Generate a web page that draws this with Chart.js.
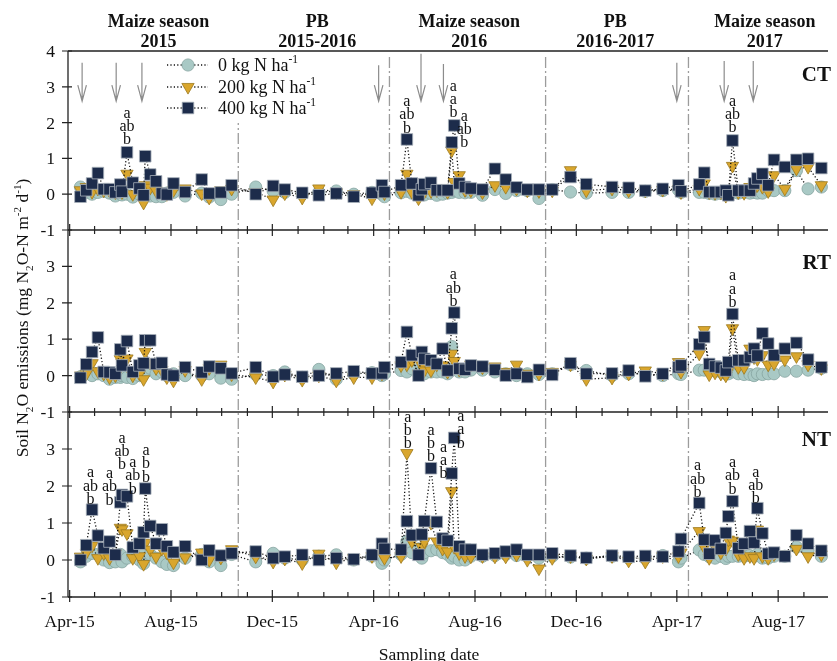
<!DOCTYPE html>
<html>
<head>
<meta charset="utf-8">
<script src="https://cdn.jsdelivr.net/npm/chart.js@4.4.1/dist/chart.umd.min.js"></script>
<style>
  html, body { margin: 0; padding: 0; background: #fff; overflow: hidden; }
  canvas { display: block; }
</style>
</head>
<body>
<canvas id="n2oChart" width="837" height="661"></canvas>
<script>
// sampling dates, shared by all tillage panels
const samplingDates = [
  // maize season 2015
  '2015-04-14', '2015-04-21', '2015-04-28', '2015-05-05', '2015-05-12', '2015-05-19',
  '2015-05-26', '2015-06-01', '2015-06-03', '2015-06-09', '2015-06-16', '2015-06-24',
  '2015-06-29', '2015-07-01', '2015-07-07', '2015-07-14', '2015-07-21', '2015-07-27',
  '2015-08-04', '2015-08-18', '2015-09-07', '2015-09-16', '2015-09-30', '2015-10-13',
  // PB 2015-2016
  '2015-11-11', '2015-12-02', '2015-12-16', '2016-01-06', '2016-01-26', '2016-02-16',
  '2016-03-08', '2016-03-30', '2016-04-11', '2016-04-14',
  // maize season 2016
  '2016-05-04', '2016-05-11', '2016-05-17', '2016-05-25', '2016-05-29', '2016-06-01',
  '2016-06-09', '2016-06-16', '2016-06-23', '2016-06-29', '2016-07-04', '2016-07-07',
  '2016-07-13', '2016-07-20', '2016-07-27', '2016-08-10', '2016-08-25', '2016-09-07',
  '2016-09-20', '2016-10-03', '2016-10-17',
  // PB 2016-2017
  '2016-11-02', '2016-11-24', '2016-12-13', '2017-01-13', '2017-02-02', '2017-02-22',
  '2017-03-15', '2017-04-03', '2017-04-06',
  // maize season 2017
  '2017-04-28', '2017-05-04', '2017-05-10', '2017-05-17', '2017-05-24', '2017-05-30',
  '2017-06-02', '2017-06-07', '2017-06-14', '2017-06-21', '2017-06-28', '2017-07-03',
  '2017-07-07', '2017-07-13', '2017-07-20', '2017-07-27', '2017-08-09', '2017-08-23',
  '2017-09-06', '2017-09-22'
];

// CT
const ctN0 = [
  0.2, 0.05, 0.0, 0.05, 0.08, 0.03, -0.05, 0.0, -0.02, 0.0, -0.08, 0.0, 0.05, 0.0, -0.05, -0.07, -0.07, 0.03, 0.05, -0.05, 0.03, -0.08, -0.15, 0.0,
  0.2, 0.09, 0.05, 0.0, 0.05, 0.09, 0.0, 0.05, 0.0, -0.07,
  0.04, 0.08, 0.03, 0.0, 0.0, -0.02, 0.02, -0.03, 0.0, 0.03, 0.05, 0.1, 0.05, 0.04, 0.05, -0.03, 0.13, 0.02, 0.1, 0.1, -0.12,
  0.13, 0.06, 0.03, 0.05, 0.05, 0.08, 0.1, 0.12, 0.05,
  0.05, 0.05, 0.02, 0.0, 0.02, 0.0, 0.03, 0.05, 0.03, 0.05, 0.03, 0.05, 0.03, 0.03, 0.1, 0.1, 0.1, 0.66, 0.15, 0.2
];
const ctN200 = [
  0.11, 0.2, 0.06, 0.15, 0.1, 0.1, 0.05, 0.15, 0.05, 0.57, 0.0, 0.1, -0.24, 0.25, 0.18, 0.1, 0.05, 0.0, 0.11, 0.16, 0.02, -0.1, 0.11, 0.15,
  0.05, -0.15, 0.02, -0.1, 0.16, 0.05, 0.0, -0.12, 0.1, 0.02,
  0.06, 0.57, 0.06, -0.12, 0.05, 0.06, 0.08, 0.11, 0.16, 0.06, 1.22, 0.34, 0.53, 0.11, 0.1, 0.05, 0.25, 0.2, 0.15, 0.1, 0.08,
  0.1, 0.67, 0.1, 0.15, 0.1, 0.1, 0.12, 0.15, 0.05,
  0.15, 0.3, 0.05, 0.03, 0.05, -0.05, 0.05, 0.79, 0.05, 0.03, 0.2, 0.15, 0.25, 0.2, 0.08, 0.53, 0.15, 0.71, 0.76, 0.25
];
const ctN400 = [
  -0.07, 0.11, 0.3, 0.59, 0.14, 0.14, 0.05, 0.27, 0.07, 1.17, 0.32, 0.16, -0.03, 1.06, 0.55, 0.36, 0.02, -0.01, 0.3, 0.06, 0.41, 0.02, 0.05, 0.25,
  0.0, 0.23, 0.13, 0.04, -0.03, 0.02, -0.07, 0.04, 0.25, 0.06,
  0.25, 1.53, 0.3, -0.03, 0.14, 0.28, 0.32, 0.11, 0.11, 0.11, 1.45, 1.92, 0.3, 0.2, 0.16, 0.13, 0.71, 0.41, 0.19, 0.13, 0.13,
  0.13, 0.48, 0.28, 0.2, 0.18, 0.1, 0.15, 0.25, 0.08,
  0.27, 0.6, 0.06, 0.06, 0.06, 0.1, -0.03, 1.5, 0.1, 0.1, 0.1, 0.3, 0.44, 0.57, 0.25, 0.96, 0.76, 0.96, 0.99, 0.73
];

// RT
const rtN0 = [
  -0.03, 0.05, 0.0, 0.05, 0.0, -0.1, -0.05, -0.05, 0.0, -0.05, -0.08, 0.0, 0.05, 0.1, 0.2, 0.05, 0.1, 0.0, 0.05, 0.0, 0.0, 0.05, -0.07, -0.1,
  0.03, 0.0, 0.1, -0.05, 0.17, -0.1, 0.05, 0.08, 0.0, 0.05,
  0.14, 0.1, 0.19, 0.05, 0.05, 0.05, 0.1, 0.1, 0.1, 0.05, 0.8, 0.2, 0.1, 0.1, 0.15, 0.15, 0.1, 0.05, 0.0, 0.05, 0.03,
  0.05, 0.3, 0.14, 0.0, 0.05, 0.05, 0.0, 0.05, 0.03,
  0.15, 0.15, 0.15, 0.13, 0.1, 0.05, 0.05, 0.1, 0.05, 0.03, 0.03, 0.0, 0.05, 0.03, 0.05, 0.05, 0.12, 0.12, 0.15, 0.2
];
const rtN200 = [
  0.0, 0.05, 0.34, 0.12, 0.05, -0.05, 0.0, 0.45, 0.35, 0.47, 0.0, 0.05, -0.1, 0.65, 0.35, 0.2, 0.15, -0.05, -0.14, 0.15, -0.1, 0.2, 0.3, 0.03,
  -0.05, -0.17, 0.02, -0.12, 0.0, -0.14, -0.05, -0.05, 0.05, 0.1,
  0.28, 0.3, 0.42, 0.05, 0.28, 0.14, 0.14, 0.3, 0.28, 0.1, 0.6, 0.4, 0.16, 0.2, 0.3, 0.22, 0.25, 0.1, 0.3, 0.05, 0.05,
  0.1, 0.3, -0.1, -0.06, 0.05, 0.14, 0.05, 0.37, 0.1,
  0.6, 1.25, 0.03, 0.08, 0.05, 0.0, 0.15, 1.3, 0.23, 0.23, 0.74, 0.5, 0.45, 0.56, 0.3, 0.33, 0.44, 0.53, 0.3, 0.2
];
const rtN400 = [
  -0.06, 0.31, 0.65, 1.05, 0.1, 0.09, 0.05, 0.72, 0.28, 0.95, 0.1, 0.28, 0.34, 0.97, 0.97, 0.32, 0.35, 0.03, 0.0, 0.23, 0.09, 0.25, 0.2, 0.06,
  0.23, -0.03, 0.03, -0.03, 0.0, 0.06, 0.12, 0.06, 0.06, 0.23,
  0.37, 1.2, 0.56, 0.0, 0.65, 0.46, 0.42, 0.32, 0.74, 0.14, 1.3, 1.73, 0.19, 0.16, 0.28, 0.25, 0.16, 0.0, 0.05, -0.04, 0.16,
  0.02, 0.34, 0.05, 0.06, 0.14, -0.02, 0.05, 0.23, 0.28,
  0.86, 1.06, 0.32, 0.25, 0.22, 0.14, 0.37, 1.69, 0.42, 0.42, 0.51, 0.74, 0.55, 1.16, 0.88, 0.56, 0.74, 0.9, 0.44, 0.23
];

// NT
const ntN0 = [
  -0.05, 0.1, 0.18, 0.15, 0.0, -0.07, -0.05, 0.15, -0.05, 0.05, 0.1, 0.0, -0.1, 0.2, 0.15, 0.05, -0.05, -0.12, -0.15, 0.05, 0.15, -0.05, -0.15, 0.15,
  -0.05, 0.18, 0.05, 0.0, 0.1, 0.14, 0.0, 0.1, -0.09, 0.0,
  0.15, 0.5, 0.2, 0.3, 0.05, 0.2, 0.25, 0.28, 0.2, 0.15, 0.05, 0.1, 0.0, 0.0, 0.1, 0.1, 0.12, 0.15, 0.12, 0.1, 0.05,
  0.1, 0.08, 0.05, 0.1, 0.05, 0.05, 0.12, -0.05, 0.05,
  0.27, 0.15, 0.09, 0.05, 0.1, 0.04, 0.1, 0.1, 0.1, 0.1, 0.12, 0.1, 0.15, 0.05, 0.05, 0.1, 0.1, 0.35, 0.25, 0.1
];
const ntN200 = [
  0.09, 0.2, 0.39, 0.05, 0.18, 0.05, 0.18, 0.87, 0.83, 0.72, 0.05, 0.1, -0.11, 0.46, 0.28, 0.09, 0.3, 0.2, -0.07, 0.07, 0.2, 0.0, 0.06, 0.29,
  0.09, -0.05, 0.03, -0.09, 0.17, -0.07, 0.05, 0.1, 0.2, 0.05,
  0.1, 2.89, 0.5, 0.18, 0.35, 0.5, 1.0, 0.5, 0.3, 0.23, 1.86, 0.35, 0.18, 0.1, 0.09, 0.1, 0.09, 0.09, 0.14, 0.0, -0.23,
  0.05, 0.1, 0.03, 0.1, -0.02, -0.05, 0.1, 0.1, 0.2,
  0.78, 0.35, 0.05, 0.35, 0.2, 0.3, 0.55, 0.52, 0.15, 0.05, 0.1, 0.05, 0.82, 0.1, 0.05, 0.15, 0.15, 0.3, 0.1, 0.15
];
const ntN400 = [
  0.0, 0.4, 1.36, 0.66, 0.32, 0.5, 0.14, 1.56, 1.76, 1.72, 0.34, 0.44, 0.75, 1.93, 0.92, 0.44, 0.83, 0.37, 0.21, 0.37, 0.0, 0.26, 0.12, 0.18,
  0.23, 0.05, 0.09, 0.14, 0.0, 0.05, 0.02, 0.14, 0.44, 0.3,
  0.28, 1.05, 0.67, 0.14, 0.69, 1.05, 2.48, 1.03, 0.58, 0.52, 2.34, 3.3, 0.37, 0.28, 0.28, 0.14, 0.18, 0.23, 0.28, 0.14, 0.14,
  0.18, 0.12, 0.06, 0.12, 0.09, 0.11, 0.09, 0.23, 0.57,
  1.54, 0.55, 0.17, 0.53, 0.3, 0.73, 1.18, 1.59, 0.32, 0.44, 0.78, 0.47, 1.4, 0.72, 0.17, 0.2, 0.1, 0.67, 0.44, 0.25
];

const panelNames = ['CT', 'RT', 'NT'];
const panelSeries = [[ctN0, ctN200, ctN400], [rtN0, rtN200, rtN400], [ntN0, ntN200, ntN400]];
const rateLabels = ['0 kg N ha', '200 kg N ha', '400 kg N ha'];

const xTickLabels = ['Apr-15', 'Aug-15', 'Dec-15', 'Apr-16', 'Aug-16', 'Dec-16', 'Apr-17', 'Aug-17'];
const xTickDates = ['2015-04-01', '2015-08-01', '2015-12-01', '2016-04-01', '2016-08-01', '2016-12-01', '2017-04-01', '2017-08-01'];
const yTicks = [-1, 0, 1, 2, 3, 4];

const seasonNames = ['Maize season', 'PB', 'Maize season', 'PB', 'Maize season'];
const seasonYears = ['2015', '2015-2016', '2016', '2016-2017', '2017'];
const seasonCenters = ['2015-07-17', '2016-01-24', '2016-07-25', '2017-01-17', '2017-07-16'];
const dividerDates = ['2015-10-21', '2016-04-20', '2016-10-25', '2017-04-15'];

// fertilisation arrows (CT panel)
const arrowDates = ['2015-04-16', '2015-05-27', '2015-06-27', '2016-04-07', '2016-05-28', '2016-06-24', '2017-04-01', '2017-05-28', '2017-07-02'];
const arrowTops = [3.67, 3.67, 3.67, 3.6, 3.92, 3.64, 3.67, 3.72, 3.72];
const arrowBottom = 2.6;

// significance letters
const letterPanels = [0, 0, 0, 0, 0, 1, 1, 2, 2, 2, 2, 2, 2, 2, 2, 2, 2, 2, 2];
const letterDates = ['2015-06-09', '2016-05-11', '2016-07-06', '2016-07-19', '2017-06-07',
  '2016-07-06', '2017-06-07',
  '2015-04-26', '2015-05-19', '2015-06-03', '2015-06-16', '2015-07-02', '2016-05-12', '2016-06-09',
  '2016-06-24', '2016-07-15', '2017-04-26', '2017-06-07', '2017-07-05'];
const letterValues = [1.53, 1.86, 2.29, 1.45, 1.87, 2.05, 2.02,
  1.65, 1.63, 2.59, 1.93, 2.25, 3.15, 2.8, 2.34, 3.17, 1.84, 1.93, 1.67];
const letterText = ['a ab b', 'a ab b', 'a a b', 'a ab b', 'a ab b', 'a ab b', 'a a b',
  'a ab b', 'a ab b', 'a ab b', 'a ab b', 'a b b', 'a b b', 'a b b', 'a a b', 'a a b',
  'a ab b', 'a ab b', 'a ab b'];

const panelLabelValues = [3.17, 2.94, 3.08];

const DAY0 = Date.UTC(2015, 3, 1);
function dayOf(s) {
  const p = s.split('-');
  return (Date.UTC(+p[0], +p[1] - 1, +p[2]) - DAY0) / 86400000;
}

const SERIF = '"Liberation Serif", "Times New Roman", serif';
const fills = ['#a9c9c5', '#d9a62d', '#1d2c4b'];
const edges = ['#86a5a1', '#9d7a1e', '#aab2bb'];
const styles = ['circle', 'triangle', 'rect'];
const radii = [6.1, 7.1, 8.2];

// pixel bands of the three panels
const plotTop = 51, plotBottom = 597;
const panelBands = [[51, 230], [230, 412], [412, 597]];
function yRange(i) {
  const t = panelBands[i][0], b = panelBands[i][1];
  const ppu = (b - t) / 5;
  const max = 4 + (t - plotTop) / ppu;
  return { min: max - (plotBottom - plotTop) / ppu, max: max };
}

const datasets = [];
panelSeries.forEach((series, p) => {
  series.forEach((vals, k) => {
    datasets.push({
      label: panelNames[p] + ' ' + rateLabels[k],
      data: samplingDates.map((d, i) => ({ x: dayOf(d), y: vals[i] })),
      yAxisID: 'y' + p,
      showLine: true,
      fill: false,
      borderColor: '#111',
      borderWidth: 1.3,
      borderDash: [1.2, 2.2],
      tension: 0,
      pointStyle: styles[k],
      pointRotation: k === 1 ? 180 : 0,
      pointRadius: radii[k],
      pointBackgroundColor: fills[k],
      pointBorderColor: edges[k],
      pointBorderWidth: 0.8,
      order: 3 - k
    });
  });
});

function drawRich(ctx, parts, x, y, size, align) {
  const small = size * 0.64;
  let total = 0;
  parts.forEach(pt => {
    ctx.font = (pt[1] ? small : size) + 'px ' + SERIF;
    total += ctx.measureText(pt[0]).width;
  });
  let cx = align === 'center' ? x - total / 2 : x;
  ctx.textAlign = 'left';
  ctx.textBaseline = 'alphabetic';
  parts.forEach(pt => {
    ctx.font = (pt[1] ? small : size) + 'px ' + SERIF;
    const dy = pt[1] === -1 ? size * 0.28 : pt[1] === 1 ? -size * 0.42 : 0;
    ctx.fillText(pt[0], cx, y + dy);
    cx += ctx.measureText(pt[0]).width;
  });
}

function drawMarker(ctx, k, x, y) {
  ctx.save();
  ctx.fillStyle = fills[k];
  ctx.strokeStyle = edges[k];
  ctx.lineWidth = 0.8;
  ctx.beginPath();
  if (k === 0) {
    ctx.arc(x, y, radii[0], 0, Math.PI * 2);
  } else if (k === 1) {
    const r = radii[1];
    ctx.moveTo(x, y + r);
    ctx.lineTo(x - r * 0.866, y - r / 2);
    ctx.lineTo(x + r * 0.866, y - r / 2);
    ctx.closePath();
  } else {
    const s = radii[2] * Math.SQRT1_2;
    ctx.rect(x - s, y - s, 2 * s, 2 * s);
  }
  ctx.fill();
  ctx.stroke();
  ctx.restore();
}

const overlay = {
  id: 'overlay',
  beforeDatasetsDraw(chart) {
    const { ctx, chartArea: a, scales } = chart;
    ctx.save();
    ctx.strokeStyle = '#9c9c9c';
    ctx.lineWidth = 1.3;
    ctx.setLineDash([11, 3, 2, 3]);
    dividerDates.forEach(d => {
      const x = scales.x.getPixelForValue(dayOf(d));
      ctx.beginPath();
      ctx.moveTo(x, a.top + 6);
      ctx.lineTo(x, a.bottom);
      ctx.stroke();
    });
    ctx.restore();
  },
  afterDatasetsDraw(chart) {
    const { ctx, chartArea: a, scales } = chart;
    const xs = scales.x;
    const X = d => xs.getPixelForValue(dayOf(d));
    const Y = (p, v) => scales['y' + p].getPixelForValue(v);
    ctx.save();
    ctx.setLineDash([]);

    // legend box
    ctx.fillStyle = '#fff';
    ctx.fillRect(160, a.top + 2, 162, 70);
    [65, 87, 108].forEach((ly, k) => {
      ctx.strokeStyle = '#111';
      ctx.lineWidth = 1.3;
      ctx.setLineDash([1.2, 2.2]);
      ctx.beginPath();
      ctx.moveTo(167, ly);
      ctx.lineTo(208, ly);
      ctx.stroke();
      ctx.setLineDash([]);
      drawMarker(ctx, k, 188, ly);
      ctx.fillStyle = '#111';
      drawRich(ctx, [[rateLabels[k], 0], ['-1', 1]], 218, ly + 6, 18, 'left');
    });

    // frame
    ctx.strokeStyle = '#222';
    ctx.lineWidth = 1.3;
    ctx.beginPath();
    ctx.moveTo(a.left, a.top);
    ctx.lineTo(a.left, a.bottom);
    for (let p = 0; p < 3; p++) {
      const yt = Y(p, 4), yb = Y(p, -1);
      ctx.moveTo(a.left, yt); ctx.lineTo(a.right, yt);
      ctx.moveTo(a.left, yb); ctx.lineTo(a.right, yb);
    }
    ctx.stroke();

    // y ticks
    ctx.lineWidth = 1.2;
    ctx.beginPath();
    for (let p = 0; p < 3; p++) {
      yTicks.forEach(v => {
        const y = Y(p, v);
        ctx.moveTo(a.left - 6, y);
        ctx.lineTo(a.left + 4, y);
      });
    }
    // monthly x ticks
    for (let m = 0; m < 31; m++) {
      const x = xs.getPixelForValue((Date.UTC(2015, 3 + m, 1) - DAY0) / 86400000);
      if (x > a.right) break;
      const major = m % 4 === 0;
      [Y(0, -1), Y(1, -1)].forEach(y => {
        const h = major ? 6 : 4;
        ctx.moveTo(x, y - h);
        ctx.lineTo(x, y + h);
      });
      const yb = Y(2, -1);
      ctx.moveTo(x, yb - (major ? 7 : 5));
      ctx.lineTo(x, yb + (major ? 5 : 0));
    }
    ctx.stroke();

    // tick labels
    ctx.fillStyle = '#111';
    ctx.font = '17.5px ' + SERIF;
    ctx.textAlign = 'right';
    ctx.textBaseline = 'alphabetic';
    for (let p = 0; p < 3; p++) {
      yTicks.forEach(v => {
        if (p > 0 && v === 4) return;
        ctx.fillText(String(v), a.left - 13, Y(p, v) + 6);
      });
    }
    ctx.textAlign = 'center';
    xTickLabels.forEach((t, i) => {
      ctx.fillText(t, X(xTickDates[i]), a.bottom + 30);
    });

    // arrows
    ctx.strokeStyle = '#8c8c8c';
    ctx.lineWidth = 1.2;
    ctx.beginPath();
    arrowDates.forEach((d, i) => {
      const x = X(d), y0 = Y(0, arrowTops[i]), y1 = Y(0, arrowBottom);
      ctx.moveTo(x, y0); ctx.lineTo(x, y1);
      ctx.moveTo(x - 4.3, y1 - 16); ctx.lineTo(x, y1); ctx.lineTo(x + 4.3, y1 - 16);
    });
    ctx.stroke();

    // significance letters
    ctx.fillStyle = '#111';
    ctx.font = '16px ' + SERIF;
    ctx.textAlign = 'center';
    letterText.forEach((txt, i) => {
      const x = X(letterDates[i]);
      const base = Y(letterPanels[i], letterValues[i]) + 5;
      txt.split(' ').reverse().forEach((s, j) => {
        ctx.fillText(s, x, base - j * 13.3);
      });
    });

    // panel labels
    ctx.font = 'bold 21px ' + SERIF;
    ctx.textAlign = 'right';
    panelNames.forEach((n, p) => ctx.fillText(n, 831, Y(p, panelLabelValues[p])));

    // season headers
    ctx.font = 'bold 18px ' + SERIF;
    ctx.textAlign = 'center';
    seasonNames.forEach((n, i) => {
      const x = X(seasonCenters[i]);
      ctx.fillText(n, x, 27);
      ctx.fillText(seasonYears[i], x, 47);
    });

    // axis titles
    ctx.font = '17.5px ' + SERIF;
    ctx.fillText('Sampling date', 429, 660);
    ctx.save();
    ctx.translate(22, 318);
    ctx.rotate(-Math.PI / 2);
    drawRich(ctx, [['Soil N', 0], ['2', -1], ['O emissions (mg N', 0], ['2', -1], ['O-N m', 0],
      ['-2', 1], [' d', 0], ['-1', 1], [')', 0]], 0, 6, 17.5, 'center');
    ctx.restore();

    ctx.restore();
  }
};

const r0 = yRange(0), r1 = yRange(1), r2 = yRange(2);
new Chart(document.getElementById('n2oChart').getContext('2d'), {
  type: 'line',
  data: { datasets: datasets },
  options: {
    responsive: false,
    animation: false,
    devicePixelRatio: 1,
    events: [],
    layout: { padding: { left: 68, top: plotTop, right: 0, bottom: 661 - plotBottom } },
    plugins: { legend: { display: false }, tooltip: { enabled: false } },
    scales: {
      x: { type: 'linear', min: -2, max: 913, display: false },
      y0: { type: 'linear', min: r0.min, max: r0.max, display: false },
      y1: { type: 'linear', min: r1.min, max: r1.max, display: false },
      y2: { type: 'linear', min: r2.min, max: r2.max, display: false }
    }
  },
  plugins: [overlay]
});
</script>
</body>
</html>
